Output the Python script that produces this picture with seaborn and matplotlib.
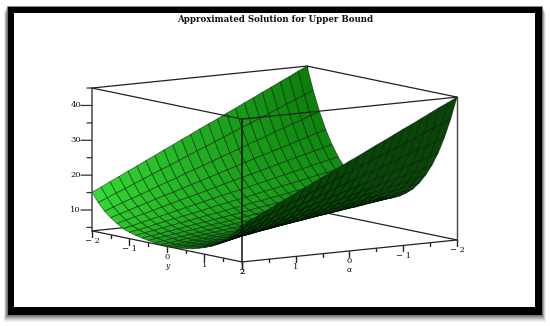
import numpy as np
import matplotlib
matplotlib.use("Agg")
import matplotlib.pyplot as plt
from matplotlib.patches import Rectangle
from mpl_toolkits.mplot3d import proj3d
import seaborn as sns

TITLE = "Approximated Solution for Upper Bound"
alpha_values = [2 - i / 6 for i in range(25)]
y_values = [-2 + j / 6 for j in range(25)]
z_major = [10, 20, 30, 40]
z_minor = [5, 15, 25, 35, 45]
y_major = [-2, -1, 0, 1, 2]
y_minor = [-1.5, -0.5, 0.5, 1.5]
alpha_major = [2, 1, 0, -1, -2]
alpha_minor = [1.5, 0.5, -0.5, -1.5]
tick_text = {-2: "\u2212 2", -1: "\u2212 1", 0: "0", 1: "1", 2: "2"}

# one row per alpha (2 down to -2), one column per y (-2 up to 2)
z_rows = [
[15.1,12.5,10.4,8.9,7.6,6.5,5.8,5.3,4.9,4.6,4.3,4.1,4.0,4.1,4.2,4.5,4.8,5.3,5.9,6.6,7.5,8.7,10.2,12.2,14.5],
[16.3,13.6,11.3,9.7,8.3,7.1,6.3,5.8,5.3,5.0,4.6,4.4,4.3,4.4,4.6,4.9,5.2,5.8,6.4,7.2,8.2,9.5,11.1,13.3,15.8],
[17.6,14.7,12.3,10.5,9.0,7.7,6.8,6.2,5.7,5.3,5.0,4.8,4.7,4.8,4.9,5.2,5.6,6.2,6.9,7.8,8.9,10.3,12.1,14.4,17.0],
[18.8,15.7,13.2,11.3,9.6,8.3,7.4,6.7,6.1,5.7,5.3,5.1,5.0,5.1,5.3,5.6,6.0,6.7,7.4,8.4,9.6,11.1,13.0,15.5,18.3],
[20.1,16.8,14.1,12.1,10.3,8.9,7.9,7.1,6.5,6.1,5.7,5.5,5.3,5.5,5.6,6.0,6.4,7.1,8.0,9.0,10.3,11.9,14.0,16.6,19.6],
[21.3,17.9,15.0,12.9,11.0,9.5,8.4,7.6,6.9,6.4,6.0,5.8,5.7,5.8,6.0,6.4,6.8,7.6,8.5,9.6,10.9,12.7,14.9,17.7,20.9],
[22.6,19.0,16.0,13.7,11.7,10.1,8.9,8.0,7.3,6.8,6.4,6.1,6.0,6.1,6.3,6.7,7.2,8.0,9.0,10.2,11.6,13.5,15.8,18.8,22.1],
[23.8,20.1,16.9,14.4,12.4,10.7,9.4,8.5,7.7,7.2,6.7,6.5,6.3,6.5,6.7,7.1,7.7,8.5,9.5,10.7,12.3,14.3,16.8,19.8,23.4],
[25.1,21.1,17.8,15.2,13.1,11.3,9.9,8.9,8.1,7.5,7.1,6.8,6.7,6.8,7.0,7.5,8.1,8.9,10.0,11.3,13.0,15.1,17.7,20.9,24.7],
[26.3,22.2,18.8,16.0,13.7,11.9,10.5,9.4,8.5,7.9,7.4,7.1,7.0,7.1,7.4,7.8,8.5,9.4,10.5,11.9,13.7,15.9,18.6,22.0,25.9],
[27.6,23.3,19.7,16.8,14.4,12.5,11.0,9.8,8.9,8.3,7.8,7.5,7.3,7.5,7.7,8.2,8.9,9.8,11.0,12.5,14.4,16.7,19.6,23.1,27.2],
[28.8,24.4,20.6,17.6,15.1,13.1,11.5,10.3,9.3,8.6,8.1,7.8,7.7,7.8,8.1,8.6,9.3,10.3,11.5,13.1,15.1,17.5,20.5,24.2,28.5],
[30.1,25.4,21.5,18.4,15.8,13.7,12.0,10.7,9.7,9.0,8.5,8.2,8.0,8.2,8.4,9.0,9.7,10.7,12.1,13.7,15.8,18.3,21.5,25.3,29.8],
[31.3,26.5,22.5,19.2,16.5,14.2,12.5,11.2,10.2,9.4,8.8,8.5,8.3,8.5,8.8,9.3,10.1,11.2,12.6,14.3,16.4,19.1,22.4,26.4,31.0],
[32.5,27.6,23.4,20.0,17.2,14.8,13.0,11.6,10.6,9.7,9.1,8.8,8.7,8.8,9.1,9.7,10.5,11.6,13.1,14.9,17.1,19.9,23.3,27.5,32.3],
[33.8,28.7,24.3,20.8,17.8,15.4,13.6,12.1,11.0,10.1,9.5,9.2,9.0,9.2,9.5,10.1,10.9,12.1,13.6,15.5,17.8,20.7,24.3,28.6,33.6],
[35.0,29.8,25.3,21.6,18.5,16.0,14.1,12.5,11.4,10.5,9.8,9.5,9.3,9.5,9.8,10.4,11.3,12.5,14.1,16.1,18.5,21.5,25.2,29.7,34.8],
[36.3,30.8,26.2,22.4,19.2,16.6,14.6,13.0,11.8,10.8,10.2,9.8,9.7,9.8,10.2,10.8,11.7,13.0,14.6,16.7,19.2,22.3,26.1,30.8,36.1],
[37.5,31.9,27.1,23.2,19.9,17.2,15.1,13.4,12.2,11.2,10.5,10.2,10.0,10.2,10.5,11.2,12.1,13.4,15.1,17.3,19.9,23.1,27.1,31.9,37.4],
[38.8,33.0,28.1,23.9,20.6,17.8,15.6,13.9,12.6,11.6,10.9,10.5,10.3,10.5,10.9,11.5,12.6,13.9,15.6,17.8,20.6,23.9,28.0,33.0,38.6],
[40.0,34.1,29.0,24.7,21.3,18.4,16.1,14.3,13.0,11.9,11.2,10.9,10.7,10.9,11.2,11.9,13.0,14.3,16.2,18.4,21.3,24.7,29.0,34.0,39.9],
[41.3,35.2,29.9,25.5,21.9,19.0,16.7,14.8,13.4,12.3,11.6,11.2,11.0,11.2,11.6,12.3,13.4,14.8,16.7,19.0,21.9,25.5,29.9,35.1,41.2],
[42.5,36.2,30.8,26.3,22.6,19.6,17.2,15.2,13.8,12.7,11.9,11.5,11.3,11.5,11.9,12.7,13.8,15.2,17.2,19.6,22.6,26.3,30.8,36.2,42.5],
[43.8,37.3,31.8,27.1,23.3,20.2,17.7,15.7,14.2,13.0,12.3,11.9,11.7,11.9,12.3,13.0,14.2,15.7,17.7,20.2,23.3,27.1,31.8,37.3,43.7],
[45.0,38.4,32.7,27.9,24.0,20.8,18.2,16.1,14.6,13.4,12.6,12.2,12.0,12.2,12.6,13.4,14.6,16.1,18.2,20.8,24.0,27.9,32.7,38.4,45.0],
]

sns.set_theme(style="white")
SERIF = ["DejaVu Serif"]
plt.rcParams["font.family"] = SERIF
W, H = 550, 326
fig = plt.figure(figsize=(W / 100, H / 100), dpi=100, facecolor="white")

# picture frame with soft shadow
bg = fig.add_axes([0, 0, 1, 1], zorder=0)
bg.set_xlim(0, W)
bg.set_ylim(H, 0)
bg.axis("off")
for k, a in zip(range(7, 0, -1), [.05, .06, .08, .10, .12, .14, .16]):
    bg.add_patch(Rectangle((7 - k / 2, 6 + k), 535 + k, 309, fc="black", ec="none", alpha=a))
bg.add_patch(Rectangle((7, 6), 535, 309, fc="black", ec="#8a8a8a", lw=0.5))
bg.add_patch(Rectangle((14, 13), 521, 294, fc="white", ec="none"))
bg.text(275, 19, TITLE, ha="center", va="center", fontsize=6.2, fontweight="bold",
        family=SERIF, color="#111111")

AZ, EL = 54.9, 8.36
BOX = (263, 261, 144.5)
ZLO, ZHI = 4, 45
ax = fig.add_axes([.2, .1, .7, .7 * W / H], projection="3d", computed_zorder=False, zorder=1,
                  proj_type="ortho")
ax.patch.set_visible(False)
ax.set_axis_off()
ax.view_init(elev=EL, azim=AZ)
ax.set_xlim(-2, 2); ax.set_ylim(-2, 2); ax.set_zlim(ZLO, ZHI)
ax.set_box_aspect(BOX)

A, Y = np.meshgrid(alpha_values, y_values, indexing="ij")
Z = np.array(z_rows)

# colours per cell: which side faces the viewer, and a lit green that fades with position
Xb, Yb, Zb = A * BOX[0] / 4, Y * BOX[1] / 4, Z * BOX[2] / (ZHI - ZLO)
def cell(m):
    return (m[:-1, :-1] + m[1:, :-1] + m[:-1, 1:] + m[1:, 1:]) / 4
d1 = np.stack([Xb[1:, 1:] - Xb[:-1, :-1], Yb[1:, 1:] - Yb[:-1, :-1], Zb[1:, 1:] - Zb[:-1, :-1]], -1)
d2 = np.stack([Xb[1:, :-1] - Xb[:-1, 1:], Yb[1:, :-1] - Yb[:-1, 1:], Zb[1:, :-1] - Zb[:-1, 1:]], -1)
nrm = np.cross(d1, d2)
nrm = nrm * np.sign(nrm[..., 2])[..., None]
az, el = np.radians(AZ), np.radians(EL)
view = np.array([np.cos(az) * np.cos(el), np.sin(az) * np.cos(el), np.sin(el)])
top_side = (nrm @ view) > 0
u = (cell(A) + 2) / 4
yc = cell(Y)
g2 = np.interp(yc, [-2, -1, 0, 1, 2], [222, 190, 140, 122, 122])
g0 = np.interp(yc, [-2, -1, 0, 1, 2], [122, 142, 138, 125, 125])
g = g0 + (g2 - g0) * u
r = np.clip((g - 100) * .45, 0, 255)
fc = np.stack([r, g, r, np.full_like(g, 255)], -1) / 255
under = np.array([8, 70, 8, 255]) / 255
fc[~top_side] = under

line = dict(color="#222222", lw=0.9, solid_capstyle="round")
def seg(p, q, z=1, **kw):
    st = dict(line); st.update(kw)
    ax.plot([p[0], q[0]], [p[1], q[1]], [p[2], q[2]], zorder=z, **st)

# back of the box, hidden by the surface
seg((2, -2, ZLO), (-2, -2, ZLO))
seg((-2, -2, ZLO), (-2, 2, ZLO))
seg((2, -2, ZHI), (-2, -2, ZHI))
seg((-2, -2, ZHI), (-2, 2, ZHI))
seg((-2, -2, ZLO), (-2, -2, ZHI))
seg((-2, 2, ZLO), (-2, 2, ZHI), color="#444444", lw=1.0)

ax.plot_surface(A, Y, Z, facecolors=fc, rstride=1, cstride=1, shade=False,
                edgecolor=(0, 0, 0, .5), linewidth=0.6, antialiased=True, zorder=2)

# front of the box and the axes
seg((2, -2, ZLO), (2, -2, ZHI), z=3, color="#666666", lw=1.3)
seg((2, 2, ZLO), (2, 2, ZHI), z=3, color="#111111", lw=1.1)
seg((2, -2, ZHI), (2, 2, ZHI), z=3)
seg((2, 2, ZHI), (-2, 2, ZHI), z=3)
seg((2, -2, ZLO), (2, 2, ZLO), z=3)
seg((2, 2, ZLO), (-2, 2, ZLO), z=3)

PX_Z = 143 / (ZHI - ZLO)
def left(px):
    a = px / 80.36
    return a, -0.7097 * a
def tick_down(a, y, px):
    seg((a, y, ZLO), (a, y, ZLO - px / PX_Z), z=3, color="#222222", lw=1.0)
for v in y_major:
    tick_down(2, v, 6)
for v in y_minor:
    tick_down(2, v, 3)
for v in alpha_major:
    tick_down(v, 2, 6)
for v in alpha_minor:
    tick_down(v, 2, 3)
da, dy = left(11)
for v in z_major:
    seg((2, -2, v), (2 + da, -2 + dy, v), z=3, color="#333333", lw=0.9)
da, dy = left(5)
for v in z_minor:
    seg((2, -2, v), (2 + da, -2 + dy, v), z=3, color="#333333", lw=0.9)

# place the axes so the box corners land where the reference has them
def display(a, y, z):
    x2, y2, _ = proj3d.proj_transform(a, y, z, ax.get_proj())
    return np.array(ax.transData.transform((x2, y2)))

targets = [((2, -2, ZLO), (92, H - 231)), ((-2, 2, ZHI), (457, H - 97))]
for _ in range(3):
    fig.canvas.draw()
    pts = np.array([display(*p) for p, _t in targets])
    want = np.array([t for _p, t in targets], float)
    s = (want[1, 0] - want[0, 0]) / (pts[1, 0] - pts[0, 0])
    pos = ax.get_position()
    w = pos.width * W * s
    cx = pos.x0 * W + pos.width * W / 2
    cy = pos.y0 * H + pos.height * H / 2
    shift = want.mean(0) - (pts.mean(0) - np.array([cx, cy])) * s - np.array([cx, cy])
    cx += shift[0]; cy += shift[1]
    ax.set_position([(cx - w / 2) / W, (cy - w / 2) / H, w / W, w / H])
fig.canvas.draw()

# labels sit in the flat layer, at the projected position of their tick
def label(a, y, z, text, off_x=0, off_y=0, **kw):
    dx, dyy = display(a, y, z)
    bg.text(dx + off_x, H - dyy + off_y, text, va="center", family=SERIF, color="#111111", **kw)

for v in y_major:
    label(2, v, ZLO, tick_text[v], off_y=10.5, ha="center", fontsize=6)
for v in alpha_major:
    label(v, 2, ZLO, tick_text[v], off_y=10.5, ha="center", fontsize=6)
label(2, 0, ZLO, "y", off_y=19.5, ha="center", fontsize=5.5, style="italic")
label(0, 2, ZLO, "\u03b1", off_y=19.5, ha="center", fontsize=5.5, style="italic")
for v in z_major:
    label(2, -2, v, str(v), off_x=-11, ha="right", fontsize=6)

fig.savefig("out.png", dpi=100, facecolor="white")
